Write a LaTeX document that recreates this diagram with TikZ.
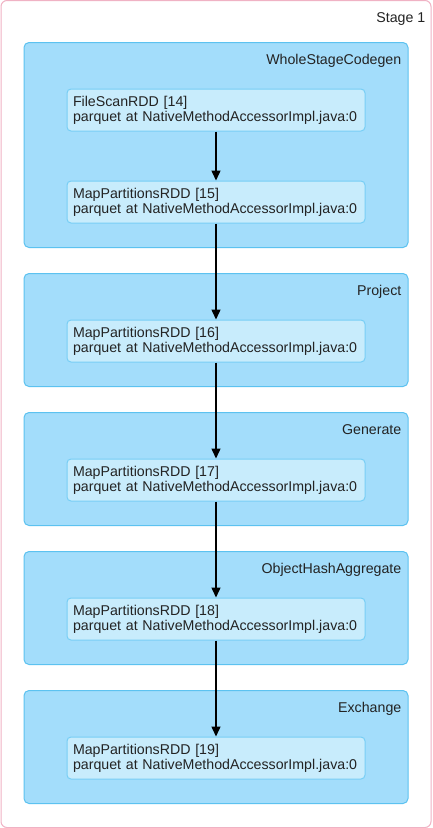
\documentclass[tikz,border=0pt]{standalone}
\usepackage{fontspec}
\setmainfont{Liberation Sans}
\usepackage{xcolor}
\usepackage{tikz}
\usetikzlibrary{arrows.meta, positioning, shapes, fit, backgrounds}

\definecolor{stageline}{RGB}{240,178,196}
\definecolor{clusterfill}{RGB}{163,221,251}
\definecolor{clusterline}{RGB}{92,194,240}
\definecolor{rddfill}{RGB}{200,236,252}
\definecolor{rddline}{RGB}{120,206,245}
\definecolor{textdark}{RGB}{35,35,35}

\begin{document}
\begin{tikzpicture}[x=1pt, y=1pt, node distance=49pt,
        font=\fontsize{14.2}{15}\selectfont, text=textdark,
        rdd/.style={draw=rddline, rectangle, rounded corners=4pt, fill=rddfill, line width=1pt, text width=286pt, inner xsep=6pt, minimum height=42pt, align=left},
        cluster/.style={draw=clusterline, rectangle, rounded corners=5pt, fill=clusterfill, line width=1pt, inner xsep=42.5pt, inner ysep=35pt, yshift=11pt},
        title/.style={anchor=north east, inner sep=0pt, xshift=-7pt, yshift=-12pt},
        flow/.style={-{Triangle[length=10pt, width=9pt]}, line width=1.4pt, draw=black}]
        \useasboundingbox (0,0) rectangle (432,-828);

        % RDDs
        \node (rdd14) [rdd] at (216,-110) {FileScanRDD [14]\\parquet at NativeMethodAccessorImpl.java:0};
        \node (rdd15) [rdd, below=of rdd14] {MapPartitionsRDD [15]\\parquet at NativeMethodAccessorImpl.java:0};
        \node (rdd16) [rdd, below=96pt of rdd15] {MapPartitionsRDD [16]\\parquet at NativeMethodAccessorImpl.java:0};
        \node (rdd17) [rdd, below=96pt of rdd16] {MapPartitionsRDD [17]\\parquet at NativeMethodAccessorImpl.java:0};
        \node (rdd18) [rdd, below=96pt of rdd17] {MapPartitionsRDD [18]\\parquet at NativeMethodAccessorImpl.java:0};
        \node (rdd19) [rdd, below=96pt of rdd18] {MapPartitionsRDD [19]\\parquet at NativeMethodAccessorImpl.java:0};

        % Stage and clusters
        \begin{scope}[on background layer]
            \node (stage) [draw=stageline, rectangle, rounded corners=6pt, fill=white, line width=1pt, fit=(rdd14)(rdd19), inner xsep=65.5pt, inner ysep=68pt, yshift=20pt] {};
            \node (wscg) [cluster, fit=(rdd14)(rdd15)] {};
            \node (project) [cluster, fit=(rdd16)] {};
            \node (generate) [cluster, fit=(rdd17)] {};
            \node (aggregate) [cluster, fit=(rdd18)] {};
            \node (exchange) [cluster, fit=(rdd19)] {};
        \end{scope}

        % Labels
        \node (stagelabel) [title, xshift=1pt] at (stage.north east) {Stage 1};
        \node (wscglabel) [title] at (wscg.north east) {WholeStageCodegen};
        \node (projectlabel) [title] at (project.north east) {Project};
        \node (generatelabel) [title] at (generate.north east) {Generate};
        \node (aggregatelabel) [title] at (aggregate.north east) {ObjectHashAggregate};
        \node (exchangelabel) [title] at (exchange.north east) {Exchange};

        % Arrows
        \draw[flow] (rdd14) -- (rdd15);
        \draw[flow] (rdd15) -- (rdd16);
        \draw[flow] (rdd16) -- (rdd17);
        \draw[flow] (rdd17) -- (rdd18);
        \draw[flow] (rdd18) -- (rdd19);
    \end{tikzpicture}
\end{document}
